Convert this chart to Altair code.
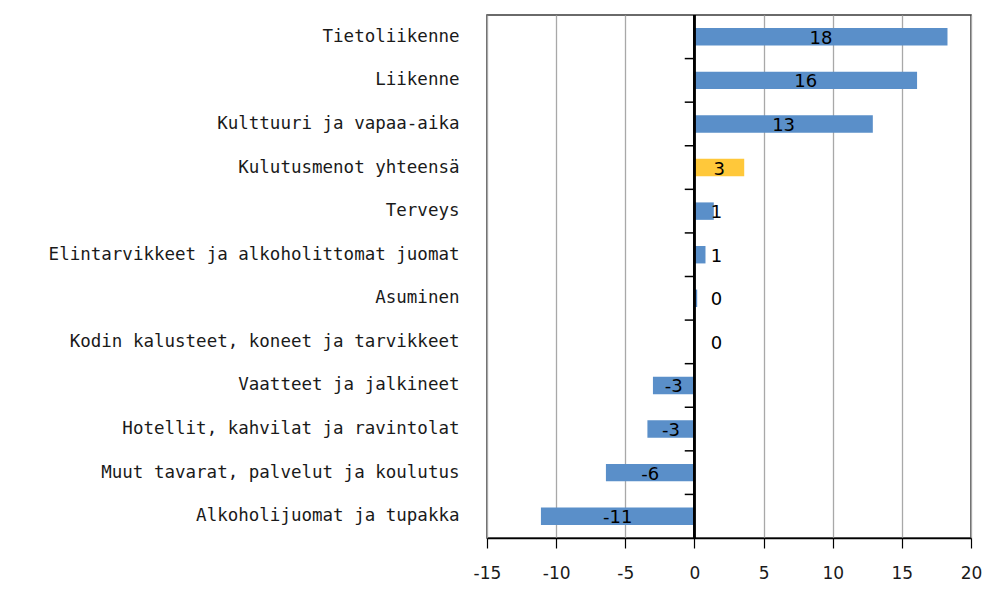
import altair as alt
import pandas as pd
import numpy as np

categories = [
    "Tietoliikenne",
    "Liikenne",
    "Kulttuuri ja vapaa-aika",
    "Kulutusmenot yhteensä",
    "Terveys",
    "Elintarvikkeet ja alkoholittomat  juomat",
    "Asuminen",
    "Kodin kalusteet,  koneet ja tarvikkeet",
    "Vaatteet ja jalkineet",
    "Hotellit, kahvilat  ja ravintolat",
    "Muut tavarat,  palvelut ja koulutus",
    "Alkoholijuomat ja tupakka",
]
values = [18.3, 16.1, 12.9, 3.6, 1.4, 0.8, 0.2, 0.0, -3.0, -3.4, -6.4, -11.1]
labels = ["18", "16", "13", "3", "1", "1", "0", "0", "-3", "-3", "-6", "-11"]
groups = ["osa", "osa", "osa", "yhteensä", "osa", "osa", "osa", "osa", "osa", "osa", "osa", "osa"]
x_ticks = [-15, -10, -5, 0, 5, 10, 15, 20]

v = np.array(values)
df = pd.DataFrame({
    "cat": categories,
    "val": values,
    "lab": labels,
    "grp": groups,
    "labpos": np.where(v >= 0, np.maximum(v / 2, 1.6), v / 2),
})
ticks_df = pd.DataFrame({"cat": categories[1:]})

FONT = "DejaVu Sans"
CAT_FONT = "DejaVu Sans Mono"
W, H = 484, 523

yscale = alt.Scale(domain=categories, paddingInner=0, paddingOuter=0)
xscale = alt.Scale(domain=[-15, 20], nice=False, zero=False)

yaxis = alt.Axis(orient="left", domain=False, ticks=False, tickSize=0,
                 labelPadding=28, labelFontSize=17.5, labelFont=CAT_FONT,
                 labelColor="#1a1a1a", labelLimit=500, grid=False)
xaxis = alt.Axis(values=x_ticks, grid=True,
                 gridColor="#a8a8a8", gridWidth=1.3,
                 domainColor="#000000", domainWidth=1.5,
                 tickColor="#000000", tickSize=10, tickWidth=1.2,
                 labelFontSize=17, labelFont=FONT, labelColor="#1a1a1a",
                 labelPadding=17, labelFlush=False,
                 labelExpr="'' + datum.value")

bars = alt.Chart(df).mark_bar(height=alt.RelativeBandSize(0.4)).encode(
    y=alt.Y("cat:N", scale=yscale, sort=categories, title=None, axis=yaxis),
    x=alt.X("val:Q", scale=xscale, title=None, axis=xaxis),
    color=alt.Color("grp:N", scale=alt.Scale(domain=["osa", "yhteensä"],
                                             range=["#5a8fc9", "#ffc83a"]),
                    legend=None),
)

zero_line = alt.Chart(df).mark_rule(color="#000000", strokeWidth=1.5).encode(
    x=alt.datum(0, scale=xscale, axis=xaxis, title=None),
)

band_ticks = alt.Chart(ticks_df).mark_rule(color="#000000", strokeWidth=1.5).encode(
    y=alt.Y("cat:N", scale=yscale, sort=categories, bandPosition=0, title=None, axis=yaxis),
    x=alt.datum(-0.7, axis=xaxis, title=None),
    x2=alt.datum(0),
)

text = alt.Chart(df).mark_text(font=FONT, fontSize=18, color="#000000",
                               align="center", baseline="middle", dy=2).encode(
    y=alt.Y("cat:N", scale=yscale, sort=categories, title=None, axis=yaxis),
    x=alt.X("labpos:Q", scale=xscale, title=None, axis=xaxis),
    text="lab:N",
)

chart = alt.layer(bars, zero_line, band_ticks, text).properties(
    width=W, height=H,
    autosize=alt.AutoSizeParams(type="none"),
    padding={"left": 479, "top": 7, "right": 11, "bottom": 43},
).configure_view(stroke="#3a3a3a", strokeWidth=1.5)

chart.save("out.html", embed_options={"renderer": "svg", "actions": False})
